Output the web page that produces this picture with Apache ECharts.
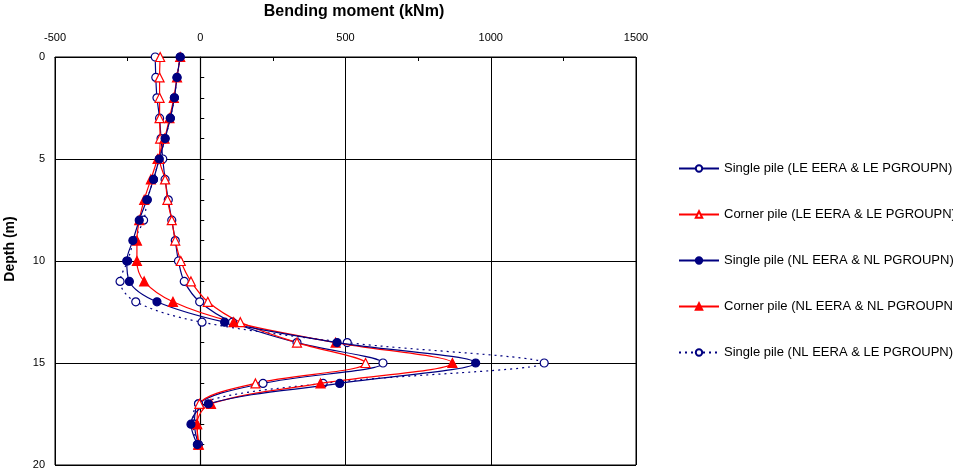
<!DOCTYPE html>
<html><head><meta charset="utf-8">
<script src="https://cdn.jsdelivr.net/npm/echarts@6/dist/echarts.min.js"></script>
<style>html,body{margin:0;padding:0;background:#fff}#c{width:953px;height:471px}</style>
</head><body><div id="c"></div>
<script>
const depths = [0,1,2,3,4,5,6,7,8,9,10,11,12,13,14,15,16,17,18,19];
const singleLE   = [-155,-153,-149,-140,-135,-129,-121,-110,-98,-86,-75,-55,-2,111,333,629,216,-6,-20,-6];
const cornerLE   = [-138,-140,-140,-140,-138,-140,-121,-113,-98,-86,-67,-32,26,138,333,569,190,-3,-11,-5];
const singleNL   = [-69,-80,-89,-103,-121,-141,-161,-184,-210,-232,-253,-244,-149,84,471,948,480,28,-32,-10];
const cornerNL   = [-69,-80,-91,-106,-123,-147,-170,-193,-210,-218,-218,-193,-94,115,466,868,414,37,-11,-7];
const singleNLLE = [-69,-80,-89,-103,-121,-141,-161,-182,-195,-228,-250,-276,-222,6,506,1184,423,-6,-25,-8];
const names = [
  'Single pile (LE EERA & LE PGROUPN)',
  'Corner pile (LE EERA & LE PGROUPN)',
  'Single pile (NL EERA & NL PGROUPN)',
  'Corner pile (NL EERA & NL PGROUPN)',
  'Single pile (NL EERA & LE PGROUPN)'
];
const xTicks = [-500, 0, 500, 1000, 1500];
const xTitle = 'Bending moment (kNm)';
const yTitle = 'Depth (m)';

const NAVY = '#000080', RED = '#ff0000';
const FONT = 'Liberation Sans, Arial, sans-serif';
function pairs(v){ return v.map((x,i)=>[x, depths[i]]); }
function mk(name, vals, color, symbol, filled, dotted){
  return {
    name, type:'line', data:pairs(vals), smooth:0.35,
    symbol, symbolSize: symbol==='triangle'?9:8,
    showSymbol:true,
    lineStyle:{color, width:1.2, type: dotted?[2,4]:'solid'},
    itemStyle:{color: filled?color:'#ffffff', borderColor:color, borderWidth:1.2},
    z: dotted?1:2
  };
}
const chart = echarts.init(document.getElementById('c'));
chart.setOption({
  animation:false,
  textStyle:{fontFamily:FONT},
  grid:{left:55, top:57, width:581, height:408, outerBoundsMode:'none', containLabel:false,
        show:true, borderColor:'#000', borderWidth:1},
  graphic:[
    {type:'text', x:354, y:12, style:{text:xTitle, font:'bold 16px '+FONT, fill:'#000', textAlign:'center', textVerticalAlign:'middle'}},
    {type:'text', x:10, y:249, rotation:Math.PI/2, style:{text:yTitle, font:'bold 14px '+FONT, fill:'#000', textAlign:'center', textVerticalAlign:'middle'}}
  ],
  xAxis:{
    type:'value', position:'top', min:-500, max:1500, interval:500,
    axisLine:{show:true, lineStyle:{color:'#000', width:1.2}},
    axisTick:{show:true, inside:true, length:5, lineStyle:{color:'#000'}},
    minorTick:{show:true, splitNumber:2, length:4, lineStyle:{color:'#000'}},
    axisLabel:{color:'#000', fontSize:11, margin:14, formatter:v=>xTicks.includes(v)?String(v):''},
    splitLine:{show:true, lineStyle:{color:'#000', width:1}}
  },
  yAxis:{
    type:'value', inverse:true, min:0, max:20, interval:5,
    axisLine:{show:true, lineStyle:{color:'#000', width:1.2}},
    axisTick:{show:true, inside:true, length:5, lineStyle:{color:'#000'}},
    minorTick:{show:true, splitNumber:5, length:4, lineStyle:{color:'#000'}},
    axisLabel:{color:'#000', fontSize:11, margin:10},
    splitLine:{show:true, lineStyle:{color:'#000', width:1}}
  },
  legend:{
    orient:'vertical', left:673, top:157, itemGap:33, itemWidth:40, itemHeight:8,
    textStyle:{fontSize:13, color:'#000'},
    data:names
  },
  series:[
    mk(names[4], singleNLLE, NAVY, 'circle', false, true),
    mk(names[0], singleLE, NAVY, 'circle', false, false),
    mk(names[1], cornerLE, RED, 'triangle', false, false),
    mk(names[3], cornerNL, RED, 'triangle', true, false),
    mk(names[2], singleNL, NAVY, 'circle', true, false)
  ]
});
</script></body></html>
